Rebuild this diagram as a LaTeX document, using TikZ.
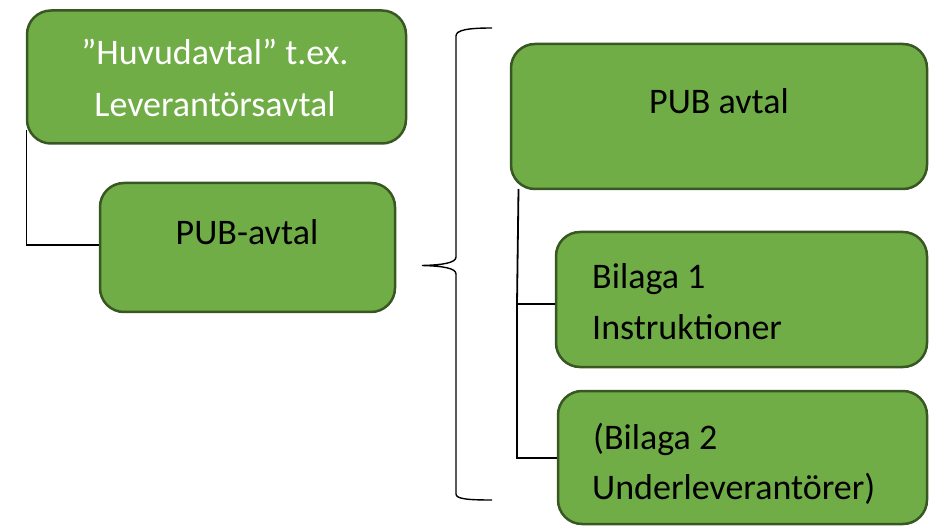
\documentclass[tikz,border=0pt]{standalone}
\usepackage{fontspec}
\setmainfont{Carlito}
\usetikzlibrary{calc}
\definecolor{boxfill}{HTML}{70AD47}
\definecolor{boxline}{HTML}{385723}
\tikzset{
  box/.style={draw=boxline, fill=boxfill, line width=2.5pt, rounded corners=24pt, rectangle, inner sep=0pt},
  txt/.style={inner sep=0pt, font=\fontsize{36}{51}\selectfont},
  conn/.style={draw=black, line width=1.8pt},
  brace/.style={draw=black, line width=1.4pt}
}
\begin{document}
\begin{tikzpicture}[x=1pt,y=-1pt]
\useasboundingbox (0,0) rectangle (931,526);
% boxes
\node[box, minimum width=379pt, minimum height=133pt] (h) at (216.5,77) {};
\node[box, minimum width=295pt, minimum height=129pt] (p) at (247.5,247.5) {};
\node[box, minimum width=416pt, minimum height=145pt] (pa) at (719,116.5) {};
\node[box, minimum width=371pt, minimum height=135pt] (b1) at (741.5,299.5) {};
\node[box, minimum width=369pt, minimum height=133pt] (b2) at (742.5,457.5) {};
% texts
\node[txt, anchor=base, text=white] (h1) at (215,65) {”Huvudavtal” t.ex.};
\node[txt, anchor=base, text=white] (h2) at (215,117) {Leverantörsavtal};
\node[txt, anchor=base] (p1) at (247,245) {PUB-avtal};
\node[txt, anchor=base] (pa1) at (719,114) {PUB avtal};
\node[txt, anchor=base west] (b11) at (592,289) {Bilaga 1};
\node[txt, anchor=base west] (b12) at (592,339) {Instruktioner};
\node[txt, anchor=base west] (b21) at (593,449) {(Bilaga 2};
\node[txt, anchor=base west] (b22) at (592,499) {Underleverantörer)};
% connectors
\coordinate (hs) at (26.5,130);
\coordinate (hc) at (26.5,245);
\draw[conn] (hs) -- (hc) -- (hc -| p.west);
\coordinate (ps) at (518.5,189);
\coordinate (j) at (517,304);
\coordinate (k) at (517,458);
\draw[conn] (ps) -- (j) -- (j -| b1.west);
\draw[conn] (j) -- (k) -- (k -| b2.west);
% brace
\coordinate (bt) at (492,28);
\coordinate (tip) at (422,265.5);
\coordinate (bb) at (492,500);
\draw[brace] (bt) .. controls (468,28) and (456,30) .. (456,36) -- (456,257)
  .. controls (456,263) and (442,265) .. (tip)
  .. controls (442,266) and (456,268) .. (456,274) -- (456,494)
  .. controls (456,499) and (468,500) .. (bb);
\end{tikzpicture}
\end{document}
